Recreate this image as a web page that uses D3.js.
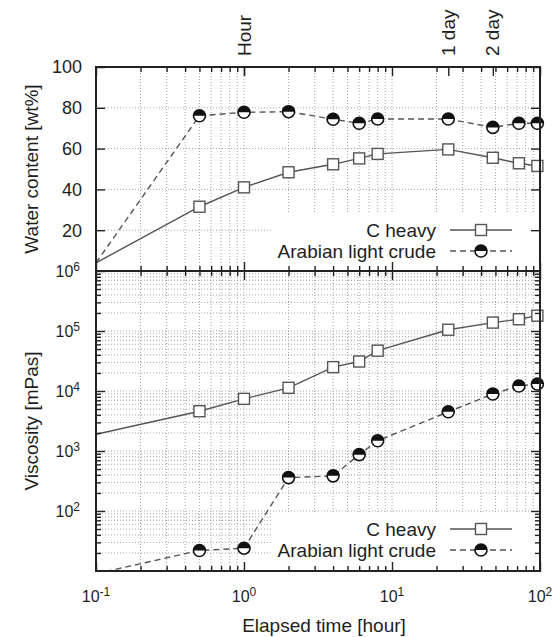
<!DOCTYPE html>
<html>
<head>
<meta charset="utf-8">
<script src="https://cdn.jsdelivr.net/npm/d3@7"></script>
<style>
body{margin:0;background:#fff}
text{font-family:"Liberation Sans",Arial,Helvetica,sans-serif;fill:#1e1e1e}
</style>
</head>
<body>
<div id="chart"></div>
<script>
// elapsed time [hour], first point is the left edge (no marker)
var times = [0.1, 0.5, 1, 2, 4, 6, 8, 24, 48, 72, 96];
var waterCHeavy = [4, 31.5, 41, 48.4, 52.3, 55.2, 57.4, 59.6, 55.5, 52.8, 51.5];
var waterArabian = [4, 76.1, 77.8, 78.1, 74.4, 72.4, 74.5, 74.5, 70.4, 72.4, 72.4];
var viscCHeavy = [1900, 4600, 7400, 11300, 25000, 31000, 47000, 105000, 138000, 157000, 180000];
var viscArabian = [9, 22, 24, 360, 385, 870, 1480, 4500, 8900, 12100, 13100];

var seriesNames = ["C heavy", "Arabian light crude"];
var topTicks = [1, 24, 48];
var topTickLabels = ["Hour", "1 day", "2 day"];
var waterTicks = [20, 40, 60, 80, 100];
var viscTicks = [1e2, 1e3, 1e4, 1e5, 1e6];
var viscTickExp = ["2", "3", "4", "5", "6"];
var timeTicks = [0.1, 1, 10, 100];
var timeTickExp = ["-1", "0", "1", "2"];

var W = 556, H = 637;
var left = 96, right = 540, top1 = 67, mid = 271, bot = 571;

var svg = d3.select("#chart").append("svg")
	.attr("width", W)
	.attr("height", H);

var x = d3.scaleLog().domain([0.1, 100]).range([left, right]);
var yW = d3.scaleLinear().domain([0, 100]).range([mid, top1]);
var yV = d3.scaleLog().domain([10, 1e6]).range([bot, mid]);

var xMinor = x.ticks().filter(d => timeTicks.indexOf(d) < 0);
var vMinor = yV.ticks().filter(d => viscTicks.indexOf(d) < 0 && d != 10);

// clip paths
var defs = svg.append("defs");
defs.append("clipPath").attr("id", "clipTop").append("rect")
	.attr("x", left).attr("y", top1).attr("width", right - left).attr("height", mid - top1);
defs.append("clipPath").attr("id", "clipBot").append("rect")
	.attr("x", left).attr("y", mid).attr("width", right - left).attr("height", bot - mid);

// grid
var grid = svg.append("g")
	.attr("stroke", "#a6a6a6")
	.attr("stroke-width", 1)
	.attr("stroke-dasharray", "1,2");

var xGrid = x.ticks().filter(d => d > 0.1 && d < 100);

grid.selectAll("foo").data(xGrid).enter().append("line")
	.attr("x1", d => x(d)).attr("x2", d => x(d))
	.attr("y1", top1).attr("y2", bot);
grid.selectAll("foo").data(waterTicks.filter(d => d < 100)).enter().append("line")
	.attr("x1", left).attr("x2", right)
	.attr("y1", d => yW(d)).attr("y2", d => yW(d));
grid.selectAll("foo").data(yV.ticks().filter(d => d > 10 && d < 1e6)).enter().append("line")
	.attr("x1", left).attr("x2", right)
	.attr("y1", d => yV(d)).attr("y2", d => yV(d));

// legend backgrounds (opaque key)
svg.append("rect").attr("x", 272).attr("y", 212).attr("width", 266).attr("height", 57).attr("fill", "#fff");
svg.append("rect").attr("x", 272).attr("y", 513).attr("width", 266).attr("height", 56).attr("fill", "#fff");

// series
function drawSeries(yScale, vals, clip, dashed, marker) {
	var data = times.map((t, i) => ({t: t, v: vals[i]}));
	var line = d3.line().x(d => x(d.t)).y(d => yScale(d.v));
	svg.append("path")
		.datum(data)
		.attr("clip-path", "url(#" + clip + ")")
		.attr("d", line)
		.attr("fill", "none")
		.attr("stroke", "#555")
		.attr("stroke-width", 1.4)
		.attr("stroke-dasharray", dashed ? "6,4" : null);
	data.filter(d => d.t > 0.1).forEach(d => marker(x(d.t), yScale(d.v)));
}

function square(cx, cy) {
	svg.append("rect")
		.attr("x", cx - 5.5).attr("y", cy - 5.5)
		.attr("width", 11).attr("height", 11)
		.attr("fill", "#fff")
		.attr("stroke", "#555")
		.attr("stroke-width", 1.4);
}

function halfCircle(cx, cy) {
	var r = 6;
	svg.append("circle")
		.attr("cx", cx).attr("cy", cy).attr("r", r)
		.attr("fill", "#fff")
		.attr("stroke", "#111")
		.attr("stroke-width", 1.6);
	svg.append("path")
		.attr("d", "M" + (cx - r) + "," + cy + " A" + r + "," + r + " 0 0 1 " + (cx + r) + "," + cy + " Z")
		.attr("fill", "#111");
}

drawSeries(yW, waterCHeavy, "clipTop", false, square);
drawSeries(yW, waterArabian, "clipTop", true, halfCircle);
drawSeries(yV, viscCHeavy, "clipBot", false, square);
drawSeries(yV, viscArabian, "clipBot", true, halfCircle);

// legends
function legend(y0) {
	seriesNames.forEach(function (name, i) {
		var yy = y0 + i * 21;
		svg.append("text")
			.attr("x", 436).attr("y", yy).attr("dy", "0.35em")
			.attr("text-anchor", "end")
			.style("font-size", "19px")
			.text(name);
		svg.append("line")
			.attr("x1", 450).attr("x2", 512).attr("y1", yy).attr("y2", yy)
			.attr("stroke", "#555").attr("stroke-width", 1.4)
			.attr("stroke-dasharray", i == 1 ? "6,4" : null);
		if (i == 0) square(481, yy); else halfCircle(481, yy);
	});
}
legend(230);
legend(529);

// ticks
function hTicks(vals, y0, len) {
	svg.append("g")
		.attr("transform", "translate(0," + y0 + ")")
		.attr("color", "#222")
		.attr("stroke-width", 1.4)
		.call(d3.axisBottom(x).tickValues(vals).tickSize(len).tickFormat(""))
		.call(g => g.select(".domain").remove());
}
function vTicks(scale, vals, x0, len) {
	svg.append("g")
		.attr("transform", "translate(" + x0 + ",0)")
		.attr("color", "#222")
		.attr("stroke-width", 1.4)
		.call(d3.axisRight(scale).tickValues(vals).tickSize(len).tickFormat(""))
		.call(g => g.select(".domain").remove());
}

[[top1, 1], [mid, -1], [mid, 1], [bot, -1]].forEach(function (p) {
	hTicks(xMinor, p[0], 5 * p[1]);
	hTicks(timeTicks, p[0], 9 * p[1]);
});
hTicks(topTicks, top1, 9);

vTicks(yW, waterTicks, left, 9);
vTicks(yW, waterTicks, right, -9);
vTicks(yV, viscTicks, left, 9);
vTicks(yV, viscTicks, right, -9);
vTicks(yV, vMinor, left, 5);
vTicks(yV, vMinor, right, -5);

// frames
svg.append("rect")
	.attr("x", left).attr("y", top1).attr("width", right - left).attr("height", bot - top1)
	.attr("fill", "none").attr("stroke", "#222").attr("stroke-width", 2);
svg.append("line")
	.attr("x1", left).attr("x2", right).attr("y1", mid).attr("y2", mid)
	.attr("stroke", "#222").attr("stroke-width", 2);

// tick labels
svg.selectAll("foo").data(waterTicks).enter().append("text")
	.attr("x", 82).attr("y", d => yW(d)).attr("dy", "0.35em")
	.attr("text-anchor", "end")
	.style("font-size", "18px")
	.text(d => d);

var vl = svg.selectAll("foo").data(viscTicks).enter().append("text")
	.attr("x", 80).attr("y", d => yV(d) + 6)
	.attr("text-anchor", "end")
	.style("font-size", "16px")
	.text("10");
vl.append("tspan")
	.attr("dy", "-0.5em")
	.style("font-size", "12px")
	.text((d, i) => viscTickExp[i]);

var xl = svg.selectAll("foo").data(timeTicks).enter().append("text")
	.attr("x", d => x(d)).attr("y", 602)
	.attr("text-anchor", "middle")
	.style("font-size", "16px")
	.text("10");
xl.append("tspan")
	.attr("dy", "-0.5em")
	.style("font-size", "12px")
	.text((d, i) => timeTickExp[i]);

svg.selectAll("foo").data(topTicks).enter().append("text")
	.attr("transform", d => "translate(" + x(d) + ",56) rotate(-90)")
	.attr("dy", "0.35em")
	.attr("text-anchor", "start")
	.style("font-size", "19px")
	.text((d, i) => topTickLabels[i]);

// axis titles
svg.append("text")
	.attr("transform", "translate(38," + ((top1 + mid) / 2) + ") rotate(-90)")
	.attr("text-anchor", "middle")
	.style("font-size", "19px")
	.text("Water content [wt%]");
svg.append("text")
	.attr("transform", "translate(38," + ((mid + bot) / 2) + ") rotate(-90)")
	.attr("text-anchor", "middle")
	.style("font-size", "19px")
	.text("Viscosity [mPas]");
svg.append("text")
	.attr("x", 324).attr("y", 632)
	.attr("text-anchor", "middle")
	.style("font-size", "19px")
	.text("Elapsed time [hour]");
</script>
</body>
</html>
